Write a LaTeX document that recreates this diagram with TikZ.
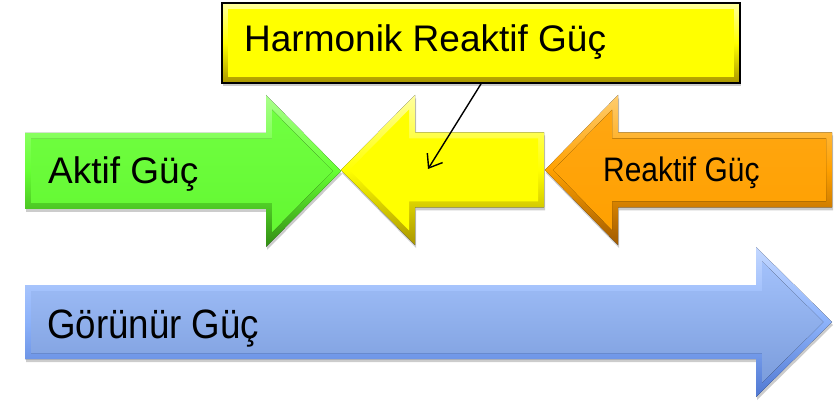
\documentclass[tikz,border=0pt]{standalone}
\usepackage{fontspec}
\setmainfont{Liberation Sans}
\usetikzlibrary{shadows,arrows.meta}
\definecolor{gbase}{RGB}{102,255,51}
\definecolor{glight}{RGB}{170,255,140}
\definecolor{gdark}{RGB}{50,140,20}
\definecolor{ybase}{RGB}{255,255,0}
\definecolor{ylight}{RGB}{255,255,160}
\definecolor{ydark}{RGB}{170,150,0}
\definecolor{obase}{RGB}{255,160,0}
\definecolor{olight}{RGB}{255,205,110}
\definecolor{odark}{RGB}{160,90,0}
\definecolor{bbase}{RGB}{140,178,250}
\definecolor{blight}{RGB}{195,215,255}
\definecolor{bdark}{RGB}{80,120,210}
\def\bev{6}
% #1 L, #2 head base, #3 tip, #4 centre y, #5 body half, #6 head half, #7 outer style, #8 inner style
\newcommand\bevarrow[8]{%
 \fill[#7] (#1,{#4-#5}) -- (#2,{#4-#5}) -- (#2,{#4-#6}) -- (#3,#4) -- (#2,{#4+#6}) -- (#2,{#4+#5}) -- (#1,{#4+#5}) -- cycle;
 \pgfmathsetmacro\kk{\bev*sqrt(1+((#3-#2)/#6)^2)}%
 \pgfmathsetmacro\yy{#6*(#3-#2-\kk-\bev)/(#3-#2)}%
 \fill[#8] ({#1+\bev},{#4-#5+\bev}) -- ({#2+\bev},{#4-#5+\bev}) -- ({#2+\bev},{#4-\yy}) -- ({#3-\kk},#4) -- ({#2+\bev},{#4+\yy}) -- ({#2+\bev},{#4+#5-\bev}) -- ({#1+\bev},{#4+#5-\bev}) -- cycle;
}
\tikzset{
  shad/.style={drop shadow={opacity=0.4,shadow xshift=1pt,shadow yshift=-3pt}},
  lbl/.style={anchor=base west,inner sep=0pt,text=black},
}
\begin{document}
\begin{tikzpicture}[x=1pt,y=-1pt]
\useasboundingbox (0,0) rectangle (836,401);
% blue arrow
\bevarrow{25}{756}{832}{322}{37}{75}{shad,top color=blight,bottom color=bdark,middle color=bbase}{top color=bbase!80!white,bottom color=bbase!88!black}
% green arrow
\bevarrow{25}{266}{341}{171}{38}{76}{shad,top color=glight,bottom color=gdark,middle color=gbase}{top color=gbase!93!white,bottom color=gbase!97!black}
% yellow and orange arrows (pointing left)
\begin{scope}[xscale=-1]
\bevarrow{-544}{-415}{-341}{170}{37.5}{75}{shad,top color=ylight,bottom color=ydark,middle color=ybase}{ybase}
\bevarrow{-832}{-618}{-545}{170}{37.5}{75}{shad,top color=olight,bottom color=odark,middle color=obase}{top color=obase!93!white,bottom color=obase}
\end{scope}
% harmonic box
\fill[shad,top color=ylight,bottom color=ydark,middle color=ybase] (222,3) rectangle (740,83);
\fill[ybase] (228,9) rectangle (734,77);
\node[draw=black,line width=1.8pt,minimum width=518pt,minimum height=80pt,inner sep=0pt] (hbox) at (481,43) {};
\node[lbl,font=\fontsize{37}{41}\selectfont] (htext) at (244,52) {Harmonik Reaktif Güç};
% labels
\node[lbl,font=\fontsize{37}{41}\selectfont] (aktif) at (48,184) {Aktif Güç};
\node[lbl,font=\fontsize{34}{40}\selectfont] (reaktif) at (603,182) {\scalebox{0.88}[1]{Reaktif Güç}};
\node[lbl,font=\fontsize{41}{46}\selectfont] (gorunur) at (47,338) {\scalebox{0.895}[1]{Görünür Güç}};
% connector
\coordinate (yin) at (428,169);
\draw[-{Straight Barb[length=12pt,width=18pt,line width=1.4pt]},line width=1.4pt] (hbox.south) -- (yin);
\end{tikzpicture}
\end{document}
